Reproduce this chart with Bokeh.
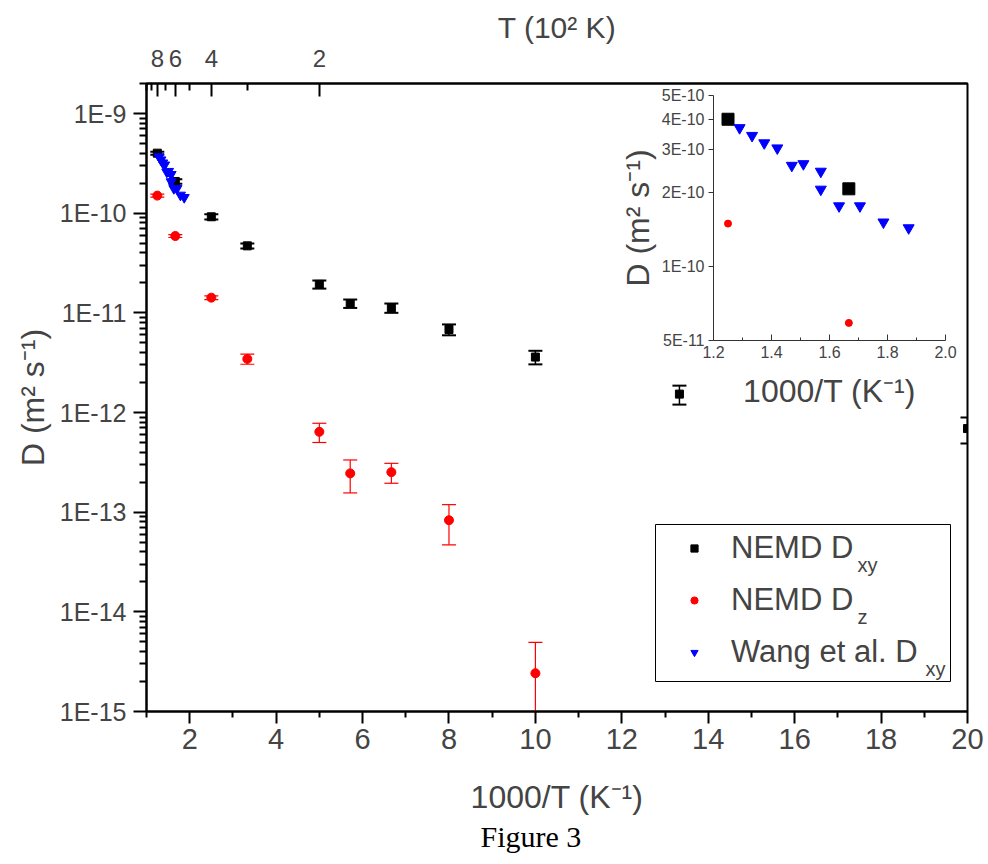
import numpy as np
from bokeh.plotting import figure
from bokeh.models import (Range1d, LinearAxis, FixedTicker, CustomJSTickFormatter,
                          PrintfTickFormatter, ColumnDataSource, Whisker, TeeHead,
                          Legend, LegendItem, Label, Title, BoxAnnotation)
from bokeh.layouts import column
from bokeh.embed import file_html
from bokeh.resources import INLINE

# ---------------- data ----------------
# NEMD temperatures (K) -> 1000/T
T_nemd_xy = [800, 600, 400, 300, 200, 175, 150, 125, 100, 75, 50]
D_xy = [4.0e-10, 2.08e-10, 9.2e-11, 4.7e-11, 1.93e-11, 1.24e-11, 1.12e-11,
        6.8e-12, 3.6e-12, 1.53e-12, 6.9e-13]
D_xy_err = [1.4e-11, 1.1e-11, 5.6e-12, 2.7e-12, 1.8e-12, 1.2e-12, 1.2e-12,
            8.5e-13, 5.6e-13, 3.3e-13, 2.0e-13]

T_nemd_z = [800, 600, 400, 300, 200, 175, 150, 125, 100]
D_z = [1.5e-10, 5.9e-11, 1.42e-11, 3.45e-12, 6.4e-13, 2.45e-13, 2.52e-13,
       8.3e-14, 2.42e-15]
D_z_err = [5e-12, 2e-12, 6e-13, 4e-13, 1.4e-13, 8.9e-14, 5.7e-14,
           3.6e-14, 2.52e-15]

# Wang et al. (1000/T in K^-1)
invT_wang = [1.29, 1.333, 1.375, 1.42, 1.47, 1.51, 1.57, 1.57, 1.633,
             1.705, 1.786, 1.873]
D_wang = [3.69e-10, 3.43e-10, 3.2e-10, 3.05e-10, 2.59e-10, 2.63e-10,
          2.45e-10, 2.07e-10, 1.77e-10, 1.77e-10, 1.52e-10, 1.44e-10]

# ticks
x_major = [2, 4, 6, 8, 10, 12, 14, 16, 18, 20]
x_minor = [1, 3, 5, 7, 9, 11, 13, 15, 17, 19]
y_decades = [-15, -14, -13, -12, -11, -10, -9]
T_top_major = [8, 6, 4, 2]        # T in 10^2 K
T_top_minor = [10, 9, 7, 5, 3]
inset_x_major = [1.2, 1.4, 1.6, 1.8, 2.0]
inset_x_minor = [1.3, 1.5, 1.7, 1.9]
inset_y_major = [5e-11, 1e-10, 2e-10, 3e-10, 4e-10, 5e-10]

FONT = "Liberation Sans"
Y_LOW, Y_HIGH = 1e-15, 2e-9

x_xy = [1000.0 / t for t in T_nemd_xy]
x_z = [1000.0 / t for t in T_nemd_z]

# ---------------- main figure ----------------
p = figure(width=988, height=864, x_range=Range1d(1, 20),
           y_range=Range1d(Y_LOW, Y_HIGH), y_axis_type="log",
           output_backend="svg", toolbar_location=None,
           min_border_left=146, min_border_right=21,
           min_border_top=83, min_border_bottom=153)
p.grid.visible = False
p.outline_line_color = "black"
p.outline_line_width = 2
p.background_fill_color = "white"
p.border_fill_color = "white"

xa = p.xaxis[0]
xa.ticker = FixedTicker(ticks=x_major, minor_ticks=x_minor)
xa.axis_label = "1000/T (K\u207b\u00b9)"
xa.axis_label_text_font = FONT
xa.axis_label_text_font_size = "32px"
xa.axis_label_text_font_style = "normal"
xa.axis_label_standoff = 27
xa.major_label_text_font = FONT
xa.major_label_text_font_size = "29px"
xa.major_label_standoff = 5
xa.major_tick_out = 12
xa.major_tick_in = 0
xa.minor_tick_out = 6
xa.minor_tick_in = 0
xa.axis_line_width = 2
xa.major_tick_line_width = 2
xa.minor_tick_line_width = 2

ya = p.yaxis[0]
ya.ticker = FixedTicker(ticks=[10.0 ** e for e in y_decades],
                        minor_ticks=[m * 10.0 ** e for e in y_decades for m in range(2, 10)])
ya.formatter = CustomJSTickFormatter(code="return '1E' + Math.round(Math.log10(tick));")
ya.axis_label = "D (m\u00b2 s\u207b\u00b9)"
ya.axis_label_text_font = FONT
ya.axis_label_text_font_size = "32px"
ya.axis_label_text_font_style = "normal"
ya.axis_label_standoff = 6
ya.major_label_text_font = FONT
ya.major_label_text_font_size = "25px"
ya.major_label_standoff = 7
ya.major_tick_out = 13
ya.major_tick_in = 0
ya.minor_tick_out = 7
ya.minor_tick_in = 0
ya.axis_line_width = 2
ya.major_tick_line_width = 2
ya.minor_tick_line_width = 2

top = LinearAxis(
    ticker=FixedTicker(ticks=[10.0 / t for t in T_top_major],
                       minor_ticks=[10.0 / t for t in T_top_minor]),
    formatter=CustomJSTickFormatter(code="return String(Math.round(10 / tick));"))
top.axis_label = "T (10\u00b2 K)"
top.axis_label_text_font = FONT
top.axis_label_text_font_size = "30px"
top.axis_label_text_font_style = "normal"
top.axis_label_standoff = 3
top.major_label_text_font = FONT
top.major_label_text_font_size = "24px"
top.major_label_standoff = 17
top.major_tick_out = 0
top.major_tick_in = 13
top.minor_tick_out = 0
top.minor_tick_in = 7
top.axis_line_width = 2
top.major_tick_line_width = 2
top.minor_tick_line_width = 2
p.add_layout(top, "above")

# data sources
src_xy = ColumnDataSource(dict(
    x=x_xy, y=D_xy,
    upper=[v + e for v, e in zip(D_xy, D_xy_err)],
    lower=[max(v - e, Y_LOW) for v, e in zip(D_xy, D_xy_err)]))
src_z = ColumnDataSource(dict(
    x=x_z, y=D_z,
    upper=[v + e for v, e in zip(D_z, D_z_err)],
    lower=[max(v - e, Y_LOW) for v, e in zip(D_z, D_z_err)]))
src_w = ColumnDataSource(dict(x=invT_wang, y=D_wang))

p.add_layout(Whisker(source=src_xy, base="x", upper="upper", lower="lower",
                     dimension="height", line_color="black", line_width=1.5,
                     upper_head=TeeHead(size=14, line_color="black", line_width=2),
                     lower_head=TeeHead(size=14, line_color="black", line_width=2)))
p.add_layout(Whisker(source=src_z, base="x", upper="upper", lower="lower",
                     dimension="height", line_color="red", line_width=1.2,
                     upper_head=TeeHead(size=14, line_color="red", line_width=1.2),
                     lower_head=TeeHead(size=14, line_color="red", line_width=1.2)))

r_xy = p.scatter("x", "y", source=src_xy, marker="square", size=8,
                 fill_color="black", line_color="black")
r_z = p.scatter("x", "y", source=src_z, marker="circle", size=9,
                fill_color="red", line_color="red")
r_w = p.scatter("x", "y", source=src_w, marker="inverted_triangle", size=10,
                fill_color="blue", line_color="blue")

# legend frame
p.add_layout(BoxAnnotation(left=509, right=804, bottom=30, top=187,
                           left_units="screen", right_units="screen",
                           bottom_units="screen", top_units="screen",
                           fill_alpha=0, line_color="black", line_width=1,
                           line_alpha=1))

legend = Legend(items=[LegendItem(label="NEMD D", renderers=[r_xy]),
                       LegendItem(label="NEMD D", renderers=[r_z]),
                       LegendItem(label="Wang et al. D", renderers=[r_w])],
                location=(509, 36), padding=5, spacing=15,
                glyph_width=68, glyph_height=18, label_height=37,
                label_width=214, label_standoff=3,
                label_text_font=FONT, label_text_font_size="31px",
                border_line_alpha=0, background_fill_alpha=0)
p.add_layout(legend)

for sx, sy, s in [(711, 147, "xy"), (711, 95, "z"), (779, 43, "xy")]:
    p.add_layout(Label(x=sx, y=sy, x_units="screen", y_units="screen", text=s,
                       text_font=FONT, text_font_size="20px",
                       text_baseline="alphabetic"))

p.add_layout(Title(text="Figure 3", align="left", offset=334, standoff=0,
                   text_font="Liberation Serif", text_font_size="30px",
                   text_font_style="normal", text_color="black"), "below")

# ---------------- inset ----------------
# frame borders are aligned with the main figure in the column, so the
# inset canvas is positioned to put its frame at the reference location
ins = figure(width=399, height=330, x_range=Range1d(1.2, 2.0),
             y_range=Range1d(5e-11, 5e-10), y_axis_type="log",
             output_backend="svg", toolbar_location=None,
             min_border_left=146, min_border_right=21,
             min_border_top=10, min_border_bottom=75)
ins.styles = {"position": "absolute", "left": "567px", "top": "85px"}
ins.grid.visible = False
ins.outline_line_color = None
ins.background_fill_alpha = 0
ins.border_fill_alpha = 0

ixa = ins.xaxis[0]
ixa.ticker = FixedTicker(ticks=inset_x_major, minor_ticks=inset_x_minor)
ixa.formatter = PrintfTickFormatter(format="%.1f")
ixa.axis_label = "1000/T (K\u207b\u00b9)"
iya = ins.yaxis[0]
iya.ticker = FixedTicker(ticks=inset_y_major, minor_ticks=[])
iya.formatter = CustomJSTickFormatter(code=(
    "const e = Math.floor(Math.log10(tick) + 1e-9);"
    "const m = Math.round(tick / Math.pow(10, e));"
    "return m + 'E' + e;"))
iya.axis_label = "D (m\u00b2 s\u207b\u00b9)"
for ax in (ixa, iya):
    ax.axis_label_text_font = FONT
    ax.axis_label_text_font_size = "32px"
    ax.axis_label_text_font_style = "normal"
    ax.major_label_text_font = FONT
    ax.major_label_text_font_size = "16px"
    ax.axis_line_color = "#333333"
    ax.major_tick_line_color = "#333333"
    ax.minor_tick_line_color = "#333333"
ixa.major_tick_in = 6
ixa.major_tick_out = 0
ixa.minor_tick_in = 3
ixa.minor_tick_out = 0
ixa.major_label_standoff = 5
ixa.axis_label_standoff = 12
iya.major_tick_out = 5
iya.major_tick_in = 0
iya.major_label_standoff = 4
iya.axis_label_standoff = 3

ins.scatter("x", "y", source=src_xy, marker="square", size=12,
            fill_color="black", line_color="black")
ins.scatter("x", "y", source=src_z, marker="circle", size=7,
            fill_color="red", line_color="red")
ins.scatter("x", "y", source=src_w, marker="inverted_triangle", size=11,
            fill_color="blue", line_color="blue")

layout = column(p, ins, styles={"position": "relative"})
with open("out.html", "w") as f:
    f.write(file_html(layout, INLINE))
